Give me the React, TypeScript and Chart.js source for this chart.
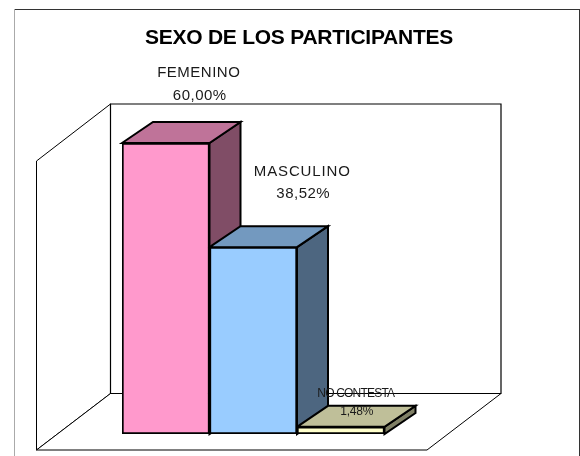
import React, { useEffect, useRef } from "react";
import { Chart, registerables } from "chart.js";

Chart.register(...registerables);

const categories = ["FEMENINO", "MASCULINO", "NO CONTESTA"];
const values = [60, 38.52, 1.48];
const valueLabels = ["60,00%", "38,52%", "1,48%"];
const frontColors = ["#FF99CC", "#99CCFF", "#FFFFCC"];
const topColors = ["#BF7399", "#7399BF", "#BFBF99"];
const sideColors = ["#804D66", "#4D6680", "#808066"];
const chartTitle = "SEXO DE LOS PARTICIPANTES";

const DX = 31;
const DY = 21;

function poly(ctx: CanvasRenderingContext2D, pts: number[][], fill: string | null, lw: number) {
  ctx.beginPath();
  pts.forEach((p, i) => (i ? ctx.lineTo(p[0], p[1]) : ctx.moveTo(p[0], p[1])));
  ctx.closePath();
  if (fill) {
    ctx.fillStyle = fill;
    ctx.fill();
  }
  ctx.lineWidth = lw;
  ctx.strokeStyle = "#000";
  ctx.stroke();
}

function seg(ctx: CanvasRenderingContext2D, x0: number, y0: number, x1: number, y1: number, color: string) {
  ctx.beginPath();
  ctx.moveTo(x0, y0);
  ctx.lineTo(x1, y1);
  ctx.strokeStyle = color;
  ctx.lineWidth = 1;
  ctx.stroke();
}

const scene = {
  id: "scene",
  beforeDatasetsDraw(chart: any) {
    const ctx = chart.ctx as CanvasRenderingContext2D;
    ctx.save();
    ctx.lineJoin = "miter";
    // frame
    seg(ctx, 14, 9.5, 580, 9.5, "#333");
    seg(ctx, 579.5, 9, 579.5, 456, "#333");
    seg(ctx, 14.5, 9, 14.5, 456, "#aaa");
    // walls and floor
    poly(ctx, [[36.5, 161], [110.5, 104], [110.5, 393.5], [36.5, 450]], "#fff", 1);
    poly(ctx, [[36.5, 450], [110.5, 393.5], [501, 393.5], [427, 450]], "#fff", 1);
    poly(ctx, [[110.5, 104], [501, 104], [501, 393.5], [110.5, 393.5]], "#fff", 1.2);
    // bar depth faces
    const els = chart.getDatasetMeta(0).data;
    els.forEach((b: any, i: number) => {
      const l = b.x - b.width / 2;
      const r = b.x + b.width / 2;
      const t = b.y;
      const base = b.base;
      poly(ctx, [[r, t], [r + DX, t - DY], [r + DX, base - DY], [r, base]], sideColors[i], 2);
      poly(ctx, [[l, t], [l + DX, t - DY], [r + DX, t - DY], [r, t]], topColors[i], 2);
    });
    ctx.restore();
  },
  afterDraw(chart: any) {
    const ctx = chart.ctx as CanvasRenderingContext2D;
    const els = chart.getDatasetMeta(0).data;
    ctx.save();
    ctx.textAlign = "center";
    ctx.textBaseline = "middle";
    ctx.fillStyle = "#000";
    ctx.font = 'bold 21px "Liberation Sans"';
    (ctx as any).letterSpacing = "-0.25px";
    ctx.fillText(chartTitle, 299, 38);
    const offsets = [33, 49, 15];
    const nameY = [73, 172, 394];
    const valueY = [96, 194, 412];
    const sizes = [15, 15, 12];
    const spacing = ["0.5px", "0.85px", "-0.8px"];
    const valueSpacing = ["0.5px", "0.5px", "-0.2px"];
    els.forEach((b: any, i: number) => {
      ctx.font = `${sizes[i]}px "Liberation Sans"`;
      ctx.fillStyle = "#1a1a1a";
      (ctx as any).letterSpacing = spacing[i];
      ctx.fillText(categories[i], b.x + offsets[i], nameY[i]);
      (ctx as any).letterSpacing = valueSpacing[i];
      ctx.fillText(valueLabels[i], b.x + offsets[i] + 1, valueY[i]);
    });
    ctx.restore();
  },
};

export default function App() {
  const ref = useRef<HTMLCanvasElement>(null);
  useEffect(() => {
    document.body.style.margin = "0";
    const chart = new Chart(ref.current!, {
      type: "bar",
      data: {
        labels: categories,
        datasets: [
          {
            data: values,
            backgroundColor: frontColors,
            borderColor: "#000",
            borderWidth: 2,
            borderSkipped: false,
            barPercentage: 1,
            categoryPercentage: 1,
          },
        ],
      },
      options: {
        responsive: false,
        animation: false,
        events: [],
        layout: { padding: { left: 122, right: 195.5, top: 143, bottom: 22 } },
        plugins: { legend: { display: false }, title: { display: false }, tooltip: { enabled: false } },
        scales: {
          x: { display: false },
          y: { display: false, min: 0, max: 60 },
        },
      },
      plugins: [scene],
    } as any);
    return () => chart.destroy();
  }, []);
  return <canvas ref={ref} width={580} height={456} style={{ display: "block", background: "#fff" }} />;
}
